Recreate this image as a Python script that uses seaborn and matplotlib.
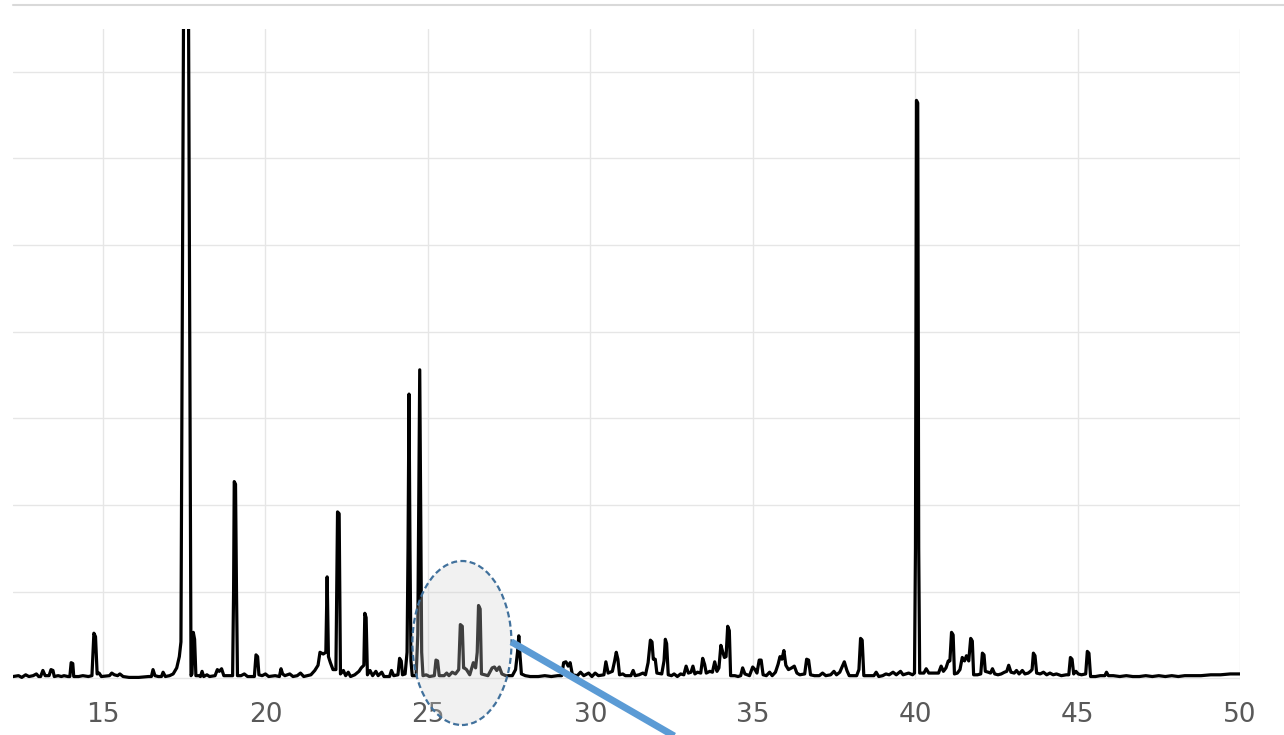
import matplotlib
matplotlib.use("Agg")
import matplotlib.pyplot as plt
from matplotlib.patches import Ellipse
from matplotlib.lines import Line2D
import seaborn as sns
import pandas as pd

# Chromatogram trace: retention time (min) and detector response (grid units)
rt_min = [
    12.23, 12.40, 12.50, 12.62, 12.72, 12.85, 12.95, 13.02,
    13.08, 13.15, 13.22, 13.34, 13.40, 13.46, 13.50,
    13.62, 13.72, 13.80, 13.92, 13.98, 14.02, 14.07, 14.10,
    14.25, 14.38, 14.55, 14.66, 14.72, 14.77, 14.82,
    14.88, 14.95, 15.20, 15.27, 15.35, 15.45, 15.52, 15.62,
    15.80, 16.10, 16.40, 16.49, 16.54, 16.60, 16.70, 16.80, 16.85, 16.92,
    17.05, 17.16, 17.27, 17.35, 17.40, 17.56, 17.71,
    17.74, 17.78, 17.82, 17.86, 17.95, 18.00, 18.05, 18.10, 18.20, 18.28,
    18.45, 18.52, 18.58, 18.65, 18.72,
    18.95, 18.99, 19.02, 19.04, 19.08, 19.11, 19.14,
    19.25, 19.35, 19.45, 19.66, 19.71, 19.76, 19.80,
    19.90, 20.00, 20.10, 20.30, 20.43, 20.48, 20.53, 20.60,
    20.75, 20.85, 20.98, 21.08, 21.18,
    21.40, 21.52, 21.62, 21.68, 21.78, 21.86, 21.90, 21.94,
    22.00, 22.08, 22.17, 22.22, 22.27, 22.31,
    22.40, 22.47, 22.55, 22.62, 22.75, 22.88, 22.95,
    23.03, 23.06, 23.10, 23.14,
    23.22, 23.30, 23.40, 23.47, 23.58, 23.65, 23.82, 23.88, 23.95,
    24.08, 24.13, 24.18, 24.22,
    24.30, 24.36, 24.39, 24.42, 24.45, 24.48, 24.52,
    24.64, 24.69, 24.72, 24.75, 24.78, 24.81, 24.85,
    24.95, 25.05, 25.20, 25.25, 25.30, 25.35,
    25.50, 25.58, 25.65, 25.75, 25.85,
    25.95, 26.00, 26.06, 26.10,
    26.12, 26.19, 26.29, 26.40, 26.47, 26.52, 26.56, 26.61, 26.65,
    26.75, 26.85, 26.98, 27.05, 27.12, 27.20, 27.28, 27.40,
    27.60, 27.70, 27.76, 27.80, 27.84, 27.88,
    28.00, 28.15, 28.40, 28.60, 28.80, 29.00,
    29.12, 29.18, 29.25, 29.32, 29.38, 29.45,
    29.60, 29.70, 29.80, 29.95, 30.05, 30.15, 30.25,
    30.42, 30.48, 30.55, 30.68, 30.75, 30.80, 30.85, 30.90,
    31.00, 31.08, 31.25, 31.32, 31.38,
    31.50, 31.62, 31.70, 31.78, 31.85, 31.90, 31.94, 32.00, 32.05,
    32.20, 32.27, 32.31, 32.35, 32.40,
    32.50, 32.58, 32.68, 32.78, 32.88, 32.95, 33.02,
    33.10, 33.16, 33.22, 33.30, 33.40, 33.46, 33.52, 33.57,
    33.68, 33.76, 33.83, 33.90, 33.96, 34.02, 34.08, 34.13,
    34.18, 34.23, 34.28, 34.32, 34.45, 34.55, 34.63, 34.69, 34.76,
    34.90, 35.00, 35.07, 35.13, 35.20, 35.26, 35.32,
    35.42, 35.52, 35.60, 35.70, 35.78, 35.84, 35.90, 35.96, 36.02, 36.10,
    36.20, 36.28, 36.36, 36.45, 36.60, 36.66, 36.72, 36.78,
    36.90, 37.05, 37.15, 37.25, 37.40, 37.50, 37.58,
    37.68, 37.76, 37.82, 37.90, 37.97,
    38.20, 38.27, 38.32, 38.37, 38.42, 38.55, 38.73, 38.80, 38.88,
    39.00, 39.10, 39.20, 39.32, 39.42, 39.55, 39.63, 39.80, 39.92,
    39.98, 40.01, 40.04, 40.08, 40.11, 40.14,
    40.27, 40.34, 40.42, 40.55, 40.72, 40.80, 40.87,
    40.95, 41.02, 41.07, 41.12, 41.17, 41.21, 41.30,
    41.38, 41.45, 41.52, 41.58, 41.65, 41.71, 41.76, 41.80, 41.92,
    42.02, 42.07, 42.12, 42.16, 42.25, 42.32, 42.38, 42.45,
    42.55, 42.65, 42.75, 42.82, 42.88, 42.95,
    43.05, 43.12, 43.20, 43.30, 43.38, 43.48, 43.55,
    43.60, 43.64, 43.69, 43.74,
    43.85, 43.95, 44.05, 44.15, 44.25, 44.35, 44.50, 44.65,
    44.73, 44.78, 44.83, 44.88, 44.95, 45.02, 45.12,
    45.25, 45.30, 45.35, 45.40, 45.55, 45.70, 45.84, 45.89, 45.95,
    46.10, 46.30, 46.50, 46.70, 46.90, 47.10, 47.30, 47.50, 47.70,
    47.90, 48.10, 48.30, 48.50, 48.80, 49.10, 49.40, 49.70, 50.00,
]
response = [
    0.02, 0.03, 0.01, 0.04, 0.02, 0.03, 0.05, 0.02,
    0.02, 0.09, 0.03, 0.03, 0.10, 0.09, 0.02,
    0.03, 0.02, 0.03, 0.02, 0.02, 0.18, 0.17, 0.02,
    0.02, 0.03, 0.02, 0.03, 0.52, 0.48, 0.05,
    0.06, 0.02, 0.03, 0.06, 0.04, 0.03, 0.05, 0.02,
    0.01, 0.01, 0.02, 0.02, 0.10, 0.03, 0.02, 0.02, 0.07, 0.02,
    0.03, 0.05, 0.12, 0.25, 0.42, 15.00, 0.03,
    0.05, 0.53, 0.45, 0.03, 0.03, 0.02, 0.08, 0.02, 0.04, 0.02,
    0.03, 0.10, 0.08, 0.11, 0.03,
    0.03, 0.03, 1.00, 2.27, 2.24, 1.00, 0.03,
    0.03, 0.05, 0.02, 0.02, 0.27, 0.25, 0.04,
    0.03, 0.05, 0.02, 0.03, 0.02, 0.11, 0.05, 0.03,
    0.05, 0.02, 0.03, 0.06, 0.02,
    0.04, 0.09, 0.15, 0.30, 0.28, 0.30, 1.17, 0.25,
    0.18, 0.10, 0.10, 1.92, 1.90, 0.05,
    0.09, 0.03, 0.07, 0.02, 0.04, 0.08, 0.12,
    0.15, 0.75, 0.70, 0.04,
    0.09, 0.03, 0.08, 0.03, 0.07, 0.02, 0.02, 0.09, 0.03,
    0.04, 0.23, 0.20, 0.04,
    0.05, 0.30, 1.50, 3.28, 1.50, 0.20, 0.03,
    0.03, 0.50, 2.00, 3.56, 2.00, 0.30, 0.03,
    0.04, 0.02, 0.03, 0.21, 0.20, 0.03,
    0.03, 0.06, 0.03, 0.07, 0.05,
    0.10, 0.62, 0.60, 0.12,
    0.12, 0.10, 0.04, 0.18, 0.12, 0.30, 0.84, 0.80, 0.05,
    0.04, 0.03, 0.12, 0.13, 0.09, 0.13, 0.05, 0.03,
    0.03, 0.10, 0.30, 0.49, 0.25, 0.05,
    0.03, 0.02, 0.02, 0.03, 0.02, 0.03,
    0.03, 0.18, 0.19, 0.14, 0.18, 0.04,
    0.03, 0.07, 0.03, 0.06, 0.02, 0.06, 0.03,
    0.04, 0.19, 0.06, 0.08, 0.20, 0.30, 0.22, 0.04,
    0.05, 0.03, 0.03, 0.09, 0.03,
    0.04, 0.06, 0.04, 0.18, 0.44, 0.42, 0.22, 0.22, 0.06,
    0.05, 0.20, 0.45, 0.40, 0.04,
    0.03, 0.05, 0.02, 0.05, 0.04, 0.14, 0.06,
    0.07, 0.14, 0.05, 0.07, 0.06, 0.23, 0.16, 0.06,
    0.08, 0.07, 0.19, 0.08, 0.12, 0.38, 0.30, 0.24,
    0.25, 0.60, 0.55, 0.03, 0.03, 0.02, 0.03, 0.12, 0.05,
    0.03, 0.13, 0.10, 0.06, 0.21, 0.21, 0.04,
    0.03, 0.07, 0.03, 0.07, 0.16, 0.25, 0.22, 0.32, 0.15, 0.10,
    0.12, 0.14, 0.06, 0.04, 0.05, 0.22, 0.21, 0.04,
    0.03, 0.03, 0.06, 0.03, 0.04, 0.08, 0.04,
    0.07, 0.14, 0.19, 0.09, 0.03,
    0.03, 0.10, 0.46, 0.44, 0.03, 0.03, 0.03, 0.07, 0.02,
    0.03, 0.05, 0.04, 0.07, 0.04, 0.08, 0.04, 0.06, 0.04,
    0.06, 1.50, 6.67, 6.64, 1.50, 0.06,
    0.06, 0.11, 0.06, 0.06, 0.06, 0.14, 0.08,
    0.12, 0.20, 0.20, 0.53, 0.50, 0.05, 0.06,
    0.10, 0.24, 0.20, 0.26, 0.20, 0.46, 0.43, 0.04, 0.04,
    0.05, 0.29, 0.27, 0.08, 0.07, 0.06, 0.11, 0.05,
    0.04, 0.05, 0.07, 0.08, 0.15, 0.07,
    0.06, 0.09, 0.05, 0.09, 0.05, 0.06, 0.08,
    0.10, 0.29, 0.26, 0.06,
    0.05, 0.07, 0.04, 0.06, 0.04, 0.05, 0.03, 0.04,
    0.04, 0.24, 0.22, 0.05, 0.08, 0.05, 0.04,
    0.05, 0.31, 0.29, 0.02, 0.02, 0.03, 0.03, 0.07, 0.03,
    0.03, 0.02, 0.03, 0.02, 0.02, 0.03, 0.02, 0.03, 0.02,
    0.03, 0.02, 0.03, 0.03, 0.03, 0.04, 0.04, 0.05, 0.05,
]

x_ticks = [15, 20, 25, 30, 35, 40, 45, 50]
x_tick_labels = ["15", "20", "25", "30", "35", "40", "45", "50"]
y_grid_levels = [0, 1, 2, 3, 4, 5, 6, 7]

trace = pd.DataFrame({"rt": rt_min, "response": response})

sns.set_theme(style="whitegrid")
plt.rcParams["font.family"] = ["DejaVu Sans"]

W, H = 1284, 735
fig = plt.figure(figsize=(W / 100, H / 100), dpi=100)
fig.patch.set_facecolor("white")
ax = fig.add_axes([13 / W, 1 - 680 / H, (1240 - 13) / W, (680 - 29) / H])
ax.set_facecolor("white")

sns.lineplot(data=trace, x="rt", y="response", sort=False, estimator=None,
             color="black", linewidth=2.3, ax=ax, zorder=3)

ax.set_xlim(12.23, 50.0)
ax.set_ylim(-0.02, 7.494)
ax.set_xticks(x_ticks)
ax.set_xticklabels(x_tick_labels)
ax.set_yticks(y_grid_levels)
ax.set_yticklabels([])
ax.set_xlabel("")
ax.set_ylabel("")
ax.tick_params(axis="both", length=0)
ax.tick_params(axis="x", labelsize=19, labelcolor="#595959", pad=16)
ax.grid(True, color="#e6e6e6", linewidth=1.0)
for s in ax.spines.values():
    s.set_visible(False)

# Highlighted region around 25-27.5 min
hl = Ellipse((26.05, 0.407), 3.05, 1.893, facecolor=(0.82, 0.82, 0.82, 0.3),
             edgecolor="#41719c", linewidth=1.6, linestyle=(0, (2.7, 1.5)),
             clip_on=False, zorder=5)
ax.add_patch(hl)
ax.plot([27.57, 33.86], [0.42, -0.943], color="#5b9bd5", linewidth=5,
        solid_capstyle="butt", clip_on=False, zorder=6)

# Thin rule along the top of the figure
fig.add_artist(Line2D([13 / W, 1.0], [1 - 5 / H, 1 - 5 / H],
                      transform=fig.transFigure, color="#d9d9d9", linewidth=1.5))

fig.savefig("out.png", dpi=100, facecolor="white")
